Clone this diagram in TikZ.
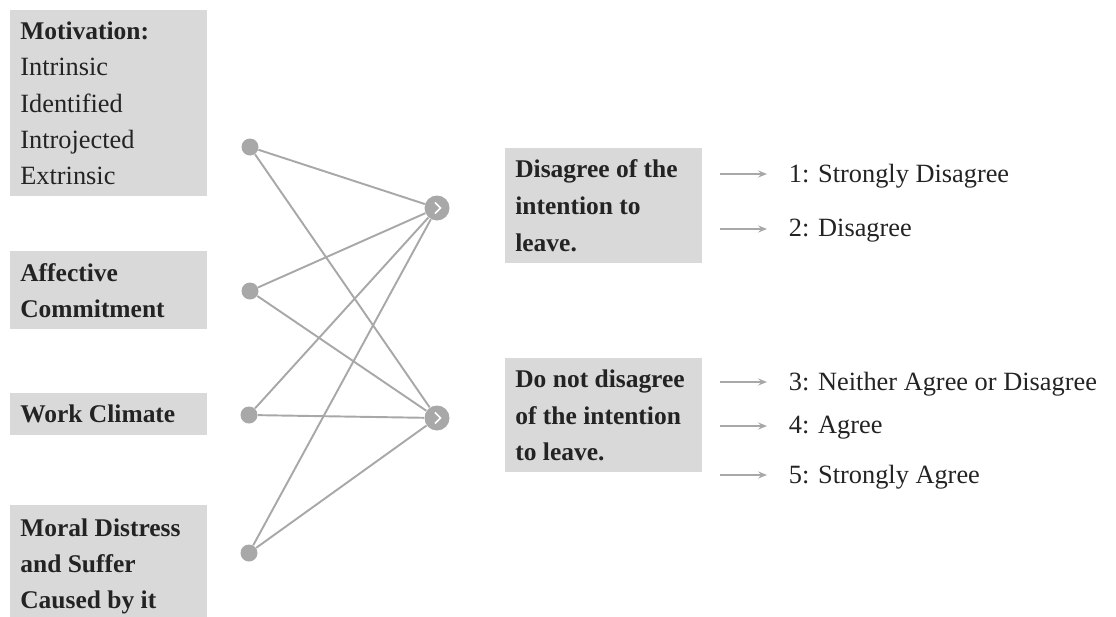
\documentclass[tikz,border=0pt]{standalone}
\usepackage{fontspec}
\setmainfont{Liberation Serif}
\usetikzlibrary{arrows.meta}
\definecolor{boxgray}{RGB}{217,217,217}
\definecolor{linegray}{RGB}{168,168,168}
\definecolor{textgray}{RGB}{35,35,35}
\tikzset{
    factor/.style={fill=boxgray, text=textgray, anchor=north west,
        text width=3.54cm, inner xsep=0.2cm, align=flush left,
        font=\fontsize{14.5}{20.5}\selectfont\bfseries},
    outcome/.style={factor, font=\fontsize{14.5}{21}\selectfont\bfseries},
    dot/.style={circle, fill=linegray, inner sep=0pt, minimum size=0.34cm},
    merge/.style={circle, fill=linegray, inner sep=0pt, minimum size=0.5cm,
        path picture={\draw[white, line width=0.9pt]
            ([shift={(-1.2pt,3.2pt)}]path picture bounding box.center) --
            ([shift={(2pt,0pt)}]path picture bounding box.center) --
            ([shift={(-1.2pt,-3.2pt)}]path picture bounding box.center);}},
    link/.style={linegray, line width=1.1pt},
    answer/.style={text=textgray, anchor=west, inner sep=2pt,
        font=\fontsize{15}{18}\selectfont},
    tick/.style={linegray, line width=0.9pt, -{Stealth[length=5pt, width=4pt]},
        shorten >=0.36cm}
}
\begin{document}
\begin{tikzpicture}[x=0.02cm, y=-0.02cm]
    \path[use as bounding box, clip] (0, 0) rectangle (1116, 616);

    \node[factor, minimum height=3.72cm, font=\fontsize{15}{20.6}\selectfont]
        (motiv) at (10, 10)
        {\textbf{\fontsize{14.5}{20.6}\selectfont Motivation:}\\Intrinsic\\Identified\\Introjected\\Extrinsic};
    \node[factor, minimum height=1.56cm] (affect) at (10, 251) {Affective\\Commitment};
    \node[factor, minimum height=0.84cm] (climate) at (10, 393) {Work Climate};
    \node[factor, minimum height=2.45cm] (distress) at (10, 505)
        {Moral Distress\\and Suffer\\Caused by it};

    \node[dot] (d1) at (250, 147) {};
    \node[dot] (d2) at (250, 291) {};
    \node[dot] (d3) at (249, 415) {};
    \node[dot] (d4) at (249, 553) {};

    \node[merge] (r1) at (437, 208) {};
    \node[merge] (r2) at (437, 418) {};

    \foreach \i in {1,...,4}
        \foreach \j in {1,2}
            \draw[link] (d\i) -- (r\j);

    \node[outcome, minimum height=2.3cm] (disagree) at (505, 148)
        {Disagree of the\\intention to\\leave.};
    \node[outcome, minimum height=2.28cm] (notdis) at (505, 358)
        {Do not disagree\\of the intention\\to leave.};

    \node[answer] (s1) at (785, 176) {1: Strongly Disagree};
    \node[answer] (s2) at (785, 231) {2: Disagree};
    \node[answer] (s3) at (785, 384) {3: Neither Agree or Disagree};
    \node[answer] (s4) at (785, 428) {4: Agree};
    \node[answer] (s5) at (785, 477) {5: Strongly Agree};

    \foreach \k/\y in {1/174, 2/229, 3/382, 4/426, 5/475} {
        \coordinate (t\k) at (720, \y);
        \draw[tick] (t\k) -- (s\k.west |- t\k);
    }
\end{tikzpicture}
\end{document}
